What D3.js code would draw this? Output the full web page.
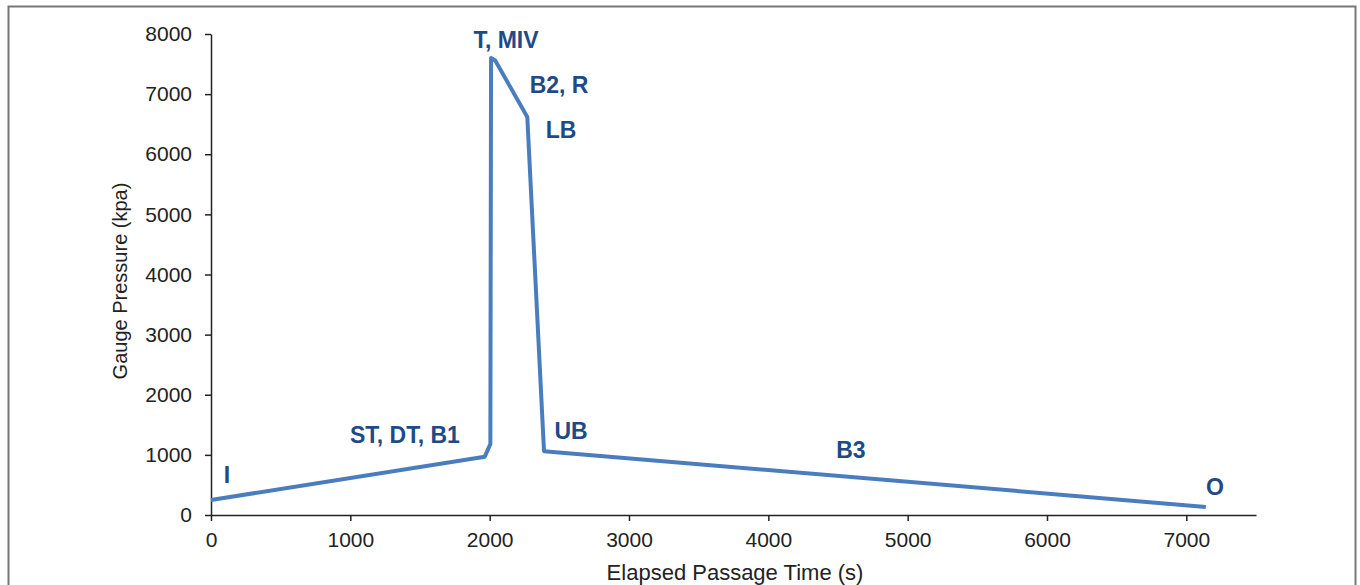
<!DOCTYPE html>
<html>
<head>
<meta charset="utf-8">
<script src="https://cdn.jsdelivr.net/npm/d3@7"></script>
<style>
  body { margin: 0; background: #fff; }
  svg { font-family: "Liberation Sans", Arial, sans-serif; }
</style>
</head>
<body>
<svg width="1360" height="585"></svg>
<script>
// Pressure trace.
const times = [0, 1965, 2005, 2010, 2040, 2270, 2390, 7140];
const pressures = [250, 970, 1180, 7600, 7560, 6620, 1060, 135];

// Stage labels and the spot where each one sits (data units).
const stageNames = ["I", "ST, DT, B1", "T, MIV", "B2, R", "LB", "UB", "B3", "O"];
const stageX = [115, 1392, 2117, 2498, 2512, 2584, 4593, 7206];
const stageY = [532, 1197, 7767, 7019, 6270, 1264, 948, 333];

const xTicks = [0, 1000, 2000, 3000, 4000, 5000, 6000, 7000];
const yTicks = [0, 1000, 2000, 3000, 4000, 5000, 6000, 7000, 8000];

function initGraph() {
  const svg = d3.select("svg");

  // Plot area, placed to line up with the scanned figure.
  const margin = {top: 34, right: 104, bottom: 70, left: 211};
  const width = +svg.attr("width") - margin.left - margin.right;
  const height = +svg.attr("height") - margin.top - margin.bottom;

  // Outer frame of the figure.
  svg.append("rect")
    .attr("x", 8.5)
    .attr("y", 6.5)
    .attr("width", 1347)
    .attr("height", 600)
    .attr("fill", "none")
    .attr("stroke", "#777")
    .attr("stroke-width", 2);

  const content = svg.append("g")
    .attr("transform", "translate(" + margin.left + "," + margin.top + ")");

  return {
    svg: svg,
    content: content,
    margin: margin,
    width: width,
    height: height,
    xScale: d3.scaleLinear().domain([0, 7500]).range([0, width]),
    yScale: d3.scaleLinear().domain([0, 8000]).range([height, 0]),
  };
}

function drawAxes(graph) {
  const {content, xScale, yScale, height} = graph;

  const xAxis = d3.axisBottom(xScale)
    .tickValues(xTicks)
    .tickSize(6)
    .tickSizeOuter(0)
    .tickPadding(11)
    .tickFormat(d3.format("d"));

  const yAxis = d3.axisLeft(yScale)
    .tickValues(yTicks)
    .tickSize(6)
    .tickSizeOuter(0)
    .tickPadding(13)
    .tickFormat(d3.format("d"));

  const gx = content.append("g")
    .attr("class", "x axis")
    .attr("transform", "translate(0," + height + ")")
    .call(xAxis);

  const gy = content.append("g")
    .attr("class", "y axis")
    .call(yAxis);

  [gx, gy].forEach(g => {
    g.selectAll("path, line").attr("stroke", "#222").attr("stroke-width", 1.5);
    g.selectAll("text")
      .attr("fill", "#222")
      .style("font-size", "21px")
      .style("font-family", "Liberation Sans, Arial, sans-serif");
  });

  // Axis titles
  graph.svg.append("text")
    .attr("x", 735)
    .attr("y", 580)
    .attr("text-anchor", "middle")
    .attr("fill", "#222")
    .style("font-size", "22px")
    .text("Elapsed Passage Time (s)");

  graph.svg.append("text")
    .attr("transform", "translate(127,281) rotate(-90)")
    .attr("text-anchor", "middle")
    .attr("fill", "#222")
    .style("font-size", "20px")
    .text("Gauge Pressure (kpa)");
}

function drawTrace(graph) {
  const {content, xScale, yScale} = graph;
  const points = times.map((t, i) => [t, pressures[i]]);

  const line = d3.line()
    .x(d => xScale(d[0]))
    .y(d => yScale(d[1]));

  content.append("path")
    .datum(points)
    .attr("d", line)
    .attr("fill", "none")
    .attr("stroke", "#4a7dbd")
    .attr("stroke-width", 4)
    .attr("stroke-linejoin", "round");

  content.selectAll("text.stage")
    .data(stageNames)
    .enter()
    .append("text")
    .attr("class", "stage")
    .attr("x", (d, i) => xScale(stageX[i]))
    .attr("y", (d, i) => yScale(stageY[i]))
    .attr("text-anchor", "middle")
    .attr("fill", "#1f4a87")
    .style("font-size", "23px")
    .style("font-weight", "bold")
    .text(d => d);
}

window.addEventListener("load", function() {
  const graph = initGraph();
  drawAxes(graph);
  drawTrace(graph);
});
</script>
</body>
</html>
